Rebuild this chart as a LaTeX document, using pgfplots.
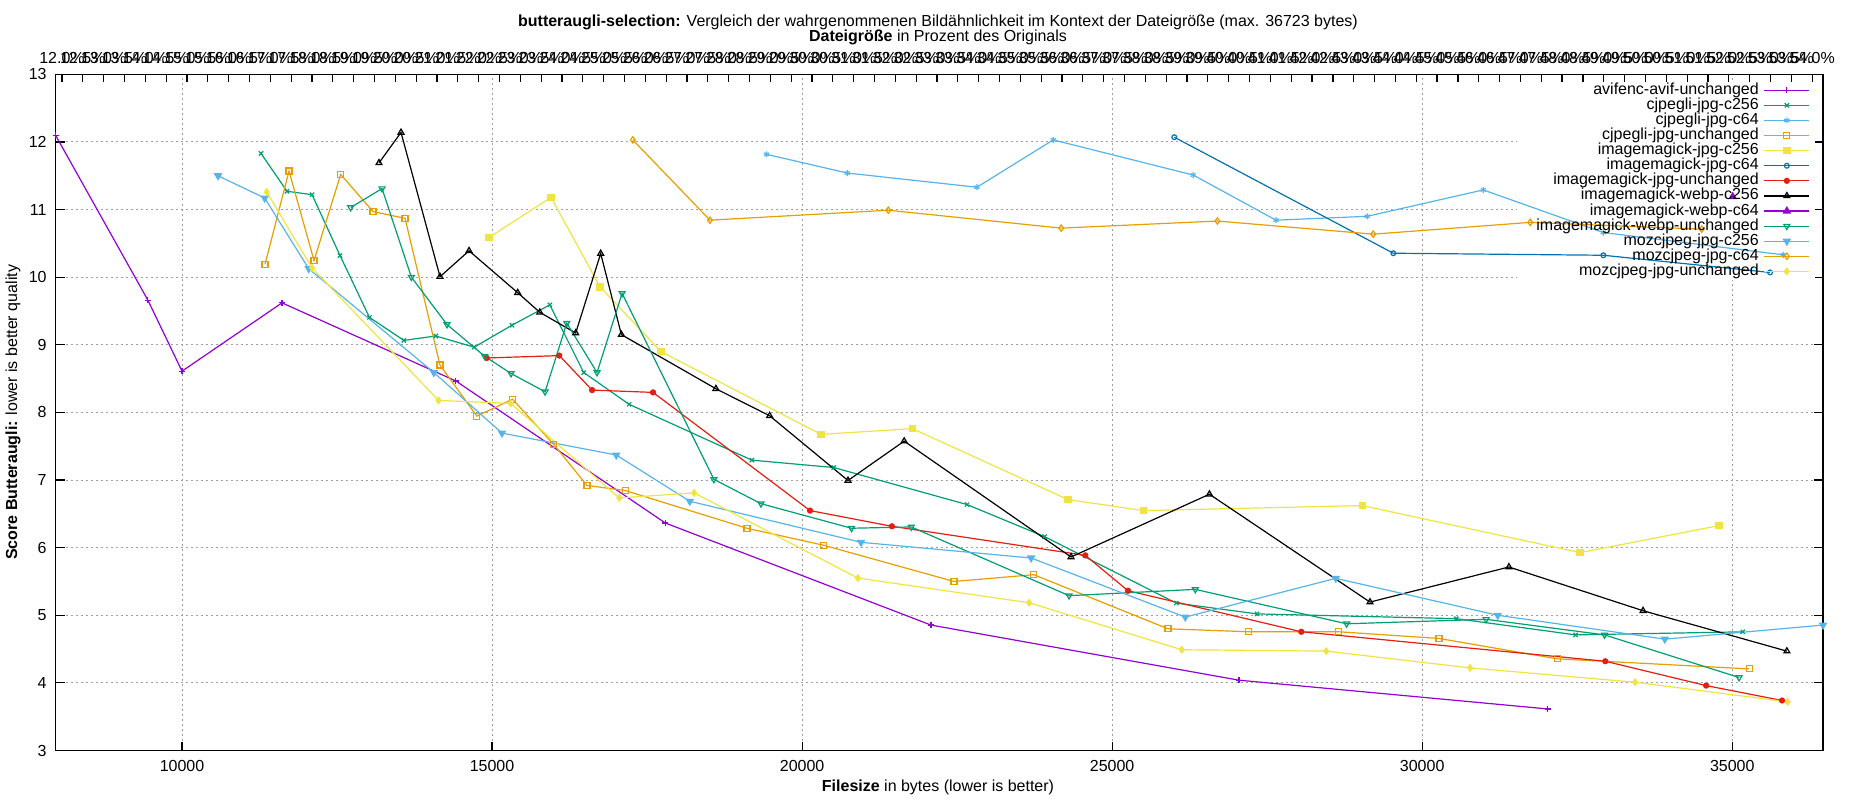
\documentclass[border=0pt]{standalone}
\usepackage{fontspec}
\setmainfont{Liberation Sans}
\usepackage{pgfplots}
\pgfplotsset{compat=1.18}
\definecolor{cpurple}{HTML}{9400D3}
\definecolor{cgreen}{HTML}{009E73}
\definecolor{clblue}{HTML}{56B4E9}
\definecolor{corange}{HTML}{E69F00}
\definecolor{cyellow}{HTML}{F0E442}
\definecolor{cblue}{HTML}{0072B2}
\definecolor{cred}{HTML}{E51E10}
\begin{document}
\begin{tikzpicture}[font=\fontsize{8}{9.6}\selectfont]
\path[use as bounding box] (0pt,0pt) rectangle (925pt,400pt);
\begin{axis}[
  at={(27.75pt,24.75pt)}, anchor=south west,
  width=883.75pt, height=338.1pt, scale only axis,
  xmin=7960, xmax=36464, ymin=3, ymax=13,
  font=\fontsize{8}{9.6}\selectfont,
  axis line style={line width=0.6pt},
  xtick={10000,15000,20000,25000,30000,35000},
  xticklabels={10000,15000,20000,25000,30000,35000},
  ytick={3,4,5,6,7,8,9,10,11,12,13},
  yticklabels={3,4,5,6,7,8,9,10,11,12,13},
  scaled x ticks=false,
  xtick pos=left,
  tick align=inside,
  major tick length=4.5pt,
  tick style={line width=0.6pt, black},
  xticklabel style={anchor=base, yshift=-10.5pt, inner sep=0pt},
  yticklabel style={anchor=east, xshift=-4.25pt, inner sep=0pt},
  grid=major,
  major grid style={gray!75, line width=0.5pt, dash pattern=on 1pt off 1.5pt},
  every axis plot/.append style={line width=0.6pt},
  every mark/.append style={solid, line width=0.5pt},
  mark size=1.5pt,
  legend plot pos=right,
  legend cell align=right,
  legend image code/.code={\draw[mark repeat=2,mark phase=2] plot coordinates {(0pt,0pt) (11.25pt,0pt) (22.5pt,0pt)};},
  legend style={draw=none, fill=none, at={(0.9926,0.9876)}, anchor=north east,
    inner sep=0pt, outer sep=0pt, row sep=0pt,
    font=\fontsize{8}{9.6}\selectfont,
    nodes={inner ysep=0pt, inner xsep=2.5pt, text height=5.8pt, text depth=1.75pt}},
]
\fill[white] (rel axis cs:0.8269,0.6958) rectangle (rel axis cs:0.9955,0.9916);

\addplot[color=cpurple, mark=+] coordinates {
(7960,12.10) (9450,9.66) (10000,8.61) (11613,9.62) (14416,8.465) (17793,6.365) (22079,4.855) (27045,4.04) (32021,3.615)};
\addlegendentry{avifenc-avif-unchanged}

\addplot[color=cgreen, mark=x] coordinates {
(11274,11.83) (11693,11.27) (12097,11.22) (12548,10.32) (13023,9.405) (13578,9.065) (14093,9.13) (14712,8.965) (15322,9.29) (15932,9.59) (16478,8.59) (17210,8.12) (19190,7.294) (20510,7.185) (22660,6.637) (23910,6.163) (26034,5.18) (27338,5.02) (30551,4.95) (32474,4.71) (35169,4.755)};
\addlegendentry{cjpegli-jpg-c256}

\addplot[color=clblue, mark=asterisk] coordinates {
(19426,11.817) (20727,11.54) (22819,11.33) (24050,12.03) (26308,11.51) (27642,10.843) (29113,10.90) (30985,11.29) (32921,10.66) (35823,10.33)};
\addlegendentry{cjpegli-jpg-c64}

\addplot[color=corange, mark=square] coordinates {
(11339,10.19) (11726,11.57) (12129,10.245) (12559,11.52) (13080,10.97) (13597,10.87) (14160,8.70) (14755,7.945) (15330,8.195) (15995,7.526) (16531,6.92) (17146,6.845) (19113,6.286) (20351,6.035) (22449,5.50) (23737,5.60) (25900,4.80) (27195,4.756) (28653,4.756) (30272,4.657) (32176,4.356) (35272,4.207)};
\addlegendentry{cjpegli-jpg-unchanged}

\addplot[color=cyellow, mark=square*, mark size=1.6pt] coordinates {
(14951,10.587) (15951,11.18) (16741,9.858) (17723,8.90) (20306,7.675) (21780,7.76) (24286,6.711) (25504,6.548) (29035,6.622) (32545,5.926) (34786,6.326)};
\addlegendentry{imagemagick-jpg-c256}

\addplot[color=cblue, mark=o, mark size=1.2pt] coordinates {
(26002,12.07) (29534,10.354) (32921,10.324) (35609,10.07)};
\addlegendentry{imagemagick-jpg-c64}

\addplot[color=cred, mark=*, mark size=1.25pt] coordinates {
(14914,8.805) (16085,8.84) (16613,8.33) (17596,8.296) (20128,6.548) (21448,6.316) (24567,5.886) (25256,5.363) (28050,4.756) (32953,4.32) (34579,3.96) (35803,3.74)};
\addlegendentry{imagemagick-jpg-unchanged}

\addplot[color=black, mark=triangle, mark size=1.7pt] coordinates {
(13177,11.69) (13532,12.14) (14161,10.007) (14629,10.39) (15414,9.77) (15770,9.48) (16349,9.174) (16752,10.35) (17086,9.15) (18610,8.35) (19477,7.95) (20740,6.993) (21646,7.575) (24337,5.862) (26569,6.79) (29158,5.195) (31399,5.714) (33562,5.067) (35881,4.47)};
\addlegendentry{imagemagick-webp-c256}

\addplot[color=cpurple, mark=triangle*, mark size=1.9pt] coordinates {
(35007,11.19)};
\addlegendentry{imagemagick-webp-c64}

\addplot[color=cgreen, mark=triangle, mark size=1.7pt, mark options={rotate=180}] coordinates {
(12720,11.03) (13226,11.31) (13699,10.0) (14273,9.30) (14882,8.83) (15306,8.575) (15855,8.305) (16205,9.32) (16693,8.59) (17097,9.76) (18578,7.01) (19337,6.65) (20797,6.287) (21760,6.306) (24305,5.29) (26340,5.383) (28782,4.874) (31030,4.94) (32940,4.71) (35110,4.08)};
\addlegendentry{imagemagick-webp-unchanged}

\addplot[color=clblue, mark=triangle*, mark size=1.9pt, mark options={rotate=180}] coordinates {
(10581,11.50) (11333,11.17) (12043,10.126) (14061,8.59) (15160,7.694) (17003,7.37) (18189,6.686) (20950,6.079) (23693,5.847) (26180,4.973) (28607,5.546) (31218,5.0) (33912,4.647) (36464,4.855)};
\addlegendentry{mozcjpeg-jpg-c256}

\addplot[color=corange, mark=diamond, mark size=1.6pt] coordinates {
(17270,12.03) (18514,10.843) (21390,10.99) (24178,10.725) (26697,10.83) (29210,10.636) (31742,10.81) (34508,10.71)};
\addlegendentry{mozcjpeg-jpg-c64}

\addplot[color=cyellow, mark=diamond*, mark size=1.6pt] coordinates {
(11366,11.26) (12097,10.136) (14138,8.177) (15300,8.133) (17052,6.735) (18259,6.81) (20899,5.55) (23661,5.185) (26123,4.49) (28452,4.47) (30771,4.222) (33433,4.01) (35894,3.72)};
\addlegendentry{mozcjpeg-jpg-unchanged}
\end{axis}

\begin{axis}[
  at={(27.75pt,24.75pt)}, anchor=south west,
  width=883.75pt, height=338.1pt, scale only axis,
  xmin=11.8452, xmax=54.262, ymin=0, ymax=1,
  font=\fontsize{8}{9.6}\selectfont,
  axis x line*=top, hide y axis,
  axis line style={line width=0.6pt, -},
  tick align=inside,
  major tick length=3.85pt,
  tick style={line width=0.6pt, black},
  xtick={12,12.5,...,54.1},
  xticklabel={\pgfmathprintnumber[fixed,fixed zerofill,precision=1,assume math mode=true]{\tick}\%},
  xticklabel style={anchor=base, yshift=5.5pt, inner sep=0pt},
]
\end{axis}

\node[anchor=base] at (469pt,386.75pt) {\textbf{butteraugli-selection:} Vergleich der wahrgenommenen Bildähnlichkeit im Kontext der Dateigröße (max. 36723 bytes)};
\node[anchor=base] at (469pt,379pt) {\textbf{Dateigröße} in Prozent des Originals};
\node[anchor=base] at (469pt,4.25pt) {\textbf{Filesize} in bytes (lower is better)};
\node[rotate=90, anchor=center] at (6.5pt,193.8pt) {\textbf{Score Butteraugli:} lower is better quality};
\end{tikzpicture}
\end{document}
